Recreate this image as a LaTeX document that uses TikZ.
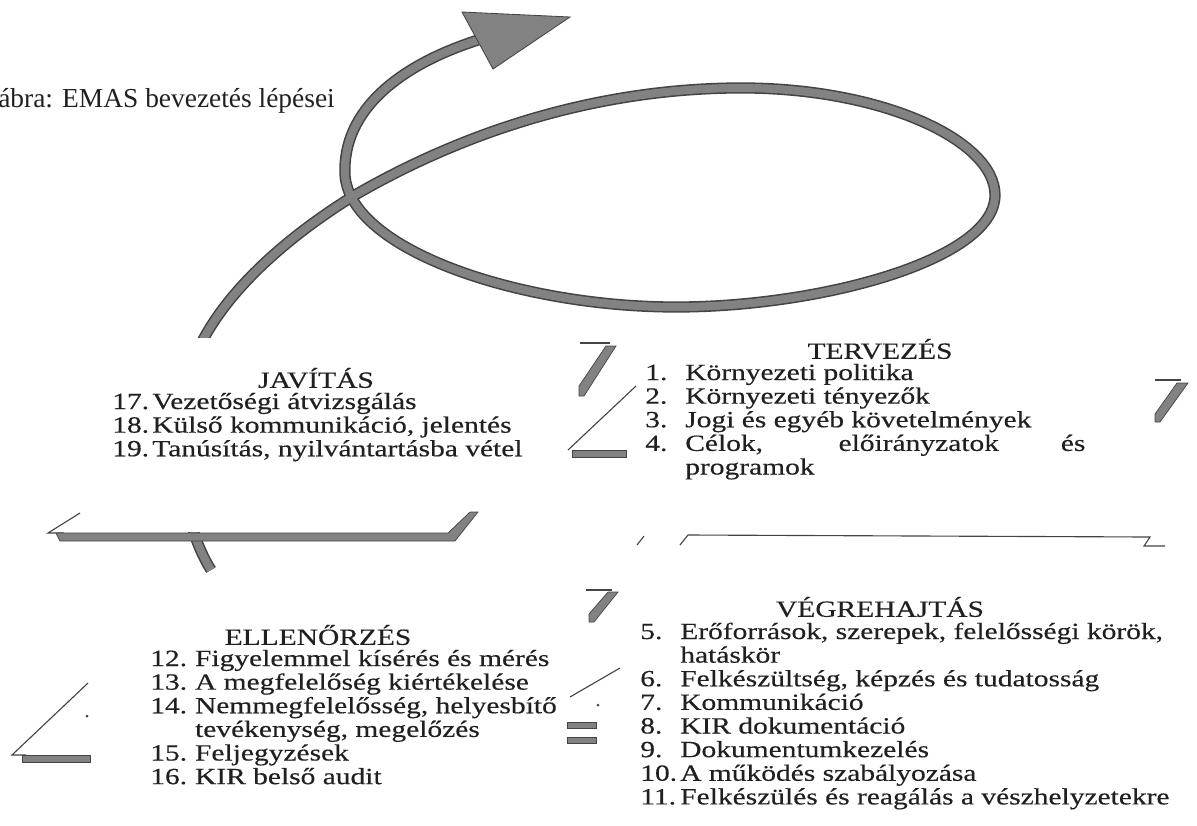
\documentclass[tikz,border=0pt]{standalone}
\usepackage{fontspec}
\setmainfont{Liberation Serif}[FakeStretch=1.27, FakeBold=0.4]
\newfontfamily\capfont{Liberation Serif}
\usetikzlibrary{positioning}
\definecolor{loopgray}{HTML}{828282}
\definecolor{edgegray}{HTML}{444444}
\definecolor{inkgray}{HTML}{202020}

\begin{document}
\begin{tikzpicture}[
    x=0.025cm, y=-0.025cm,
    font=\fontsize{16.5}{16.8}\selectfont, text=inkgray,
    head/.style={inner sep=0pt, font=\fontsize{16.5}{17}\selectfont},
    steplist/.style={inner sep=0pt, anchor=base west, align=left},
    loopline/.style={line width=1.1pt, draw=edgegray, double=loopgray, double distance=5.8pt},
    shadebar/.style={fill=loopgray, draw=edgegray, line width=0.5pt},
    edgeline/.style={draw=edgegray, line width=0.8pt}
  ]
    \useasboundingbox (0,0) rectangle (1197,825);

    % Caption
    \node[inner sep=0pt, anchor=west, font={\capfont\fontsize{19.5}{20}\selectfont}] (caption) at (-2,101) {ábra: EMAS bevezetés lépései};

    % Loop arrow
    \draw[loopline] (211,570) .. controls (180,520) and (168,430) .. (197,352)
      .. controls (225,290) and (290,235) .. (355,195)
      .. controls (450,140) and (580,90) .. (733,88)
      .. controls (880,86) and (995,140) .. (995,195)
      .. controls (995,260) and (820,307) .. (676,307)
      .. controls (520,307) and (350,250) .. (345,175)
      .. controls (342,110) and (400,65) .. (478,40);
    \filldraw[fill=loopgray, draw=edgegray, line width=0.6pt] (462,12) -- (570,17) -- (493,69) -- cycle;

    % Box face of JAVITAS (covers the tail of the loop)
    \fill[white] (60,338) rectangle (470,532);

    % Shadow fragments
    \draw[edgeline] (580,343) -- (610,343);
    \filldraw[shadebar] (606,346) -- (616,346) -- (584,396) -- (579,396) -- (579,386) -- cycle;
    \draw[edgeline] (636,386) -- (568,450);
    \filldraw[shadebar] (572,450) rectangle (626,457);

    \draw[edgeline] (1155,380) -- (1181,380);
    \filldraw[shadebar] (1177,383) -- (1188,383) -- (1160,422) -- (1155,422) -- (1155,414) -- cycle;

    \draw[edgeline] (80,513) -- (48,533) -- (64,533);
    \filldraw[shadebar] (56,533) -- (448,533) -- (470,512) -- (478,512) -- (455,541) -- (60,541) -- cycle;

    \draw[edgeline] (637,545) -- (644,536);
    \draw[edgeline] (680,545) -- (688,535) -- (1150,537) -- (1144,546) -- (1165,546);

    \draw[edgeline] (586,590) -- (612,590);
    \filldraw[shadebar] (608,592) -- (618,592) -- (594,622) -- (589,622) -- (589,614) -- cycle;

    \draw[edgeline] (620,668) -- (570,697);
    \fill[edgegray] (598,705) circle (1.5);
    \filldraw[shadebar] (567,722) rectangle (596,728);
    \filldraw[shadebar] (567,737) rectangle (596,743);

    \draw[edgeline] (88,683) -- (12,755) -- (26,755);
    \fill[edgegray] (87,716) circle (1.5);
    \filldraw[shadebar] (22,755) rectangle (90,762);

    % TERVEZES
    \node[head] (terv) at (880,349) {TERVEZÉS};
    \node[steplist] (tervlist) at (645,380) {\begin{tabular}[t]{@{}p{1cm}@{}l@{}}
      1. & Környezeti politika\\
      2. & Környezeti tényezők\\
      3. & Jogi és egyéb követelmények\\
      4. & \makebox[10cm][s]{Célok, előirányzatok és}\\
         & programok
    \end{tabular}};

    % VEGREHAJTAS
    \node[head] (vegre) at (880,607) {VÉGREHAJTÁS};
    \node[steplist] (vegrelist) at (640,639) {\begin{tabular}[t]{@{}p{1cm}@{}l@{}}
      5. & Erőforrások, szerepek, felelősségi körök,\\
         & hatáskör\\
      6. & Felkészültség, képzés és tudatosság\\
      7. & Kommunikáció\\
      8. & KIR dokumentáció\\
      9. & Dokumentumkezelés\\
      10. & A működés szabályozása\\
      11. & Felkészülés és reagálás a vészhelyzetekre
    \end{tabular}};

    % ELLENORZES
    \node[head] (ellen) at (318,635) {ELLENŐRZÉS};
    \node[steplist] (ellenlist) at (150,666) {\begin{tabular}[t]{@{}p{1.12cm}@{}l@{}}
      12. & Figyelemmel kísérés és mérés\\
      13. & A megfelelőség kiértékelése\\
      14. & Nemmegfelelősség, helyesbítő\\
          & tevékenység, megelőzés\\
      15. & Feljegyzések\\
      16. & KIR belső audit
    \end{tabular}};

    % JAVITAS
    \node[head] (jav) at (316,378) {JAVÍTÁS};
    \node[steplist] (javlist) at (112,409) {\begin{tabular}[t]{@{}p{1.0cm}@{}l@{}}
      17. & Vezetőségi átvizsgálás\\
      18. & Külső kommunikáció, jelentés\\
      19. & Tanúsítás, nyilvántartásba vétel
    \end{tabular}};
  \end{tikzpicture}
\end{document}
